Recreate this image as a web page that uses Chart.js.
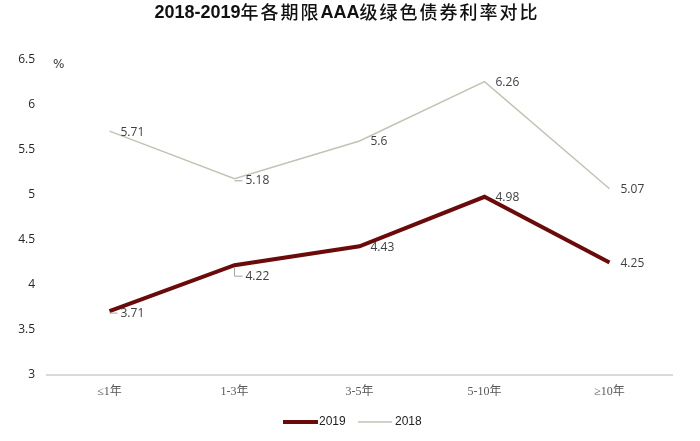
<!DOCTYPE html>
<html>
<head>
<meta charset="utf-8">
<script src="https://cdn.jsdelivr.net/npm/chart.js@4/dist/chart.umd.min.js"></script>
<style>
  html, body { margin: 0; padding: 0; background: #fff; }
  #wrap { width: 700px; height: 441px; }
</style>
</head>
<body>
<div id="wrap"><canvas id="rateChart"></canvas></div>
<script>
// 数据
const categories = ['≤1年', '1-3年', '3-5年', '5-10年', '≥10年'];
const rates2019 = [3.71, 4.22, 4.43, 4.98, 4.25];
const rates2018 = [5.71, 5.18, 5.6, 6.26, 5.07];
const yTicks = [3, 3.5, 4, 4.5, 5, 5.5, 6, 6.5];

// 标题分段：拉丁字符加粗，汉字常规
const titleParts = [
    ['2018-2019', true], ['年各期限', false], ['AAA', true], ['级绿色债券利率对比', false]
];
const cjk = '"Noto Sans CJK SC", "Noto Sans", sans-serif';

// 标题、单位、数据标签和图例
const decorPlugin = {
    id: 'decor',
    afterDatasetsDraw(chart) {
        const ctx = chart.ctx;
        ctx.save();

        // 标题
        ctx.fillStyle = '#111';
        ctx.textAlign = 'left';
        ctx.textBaseline = 'middle';
        const setFont = bold => {
            ctx.font = bold ? 'bold 18px "Liberation Sans", sans-serif' : '500 18px ' + cjk;
            ctx.letterSpacing = bold ? '0px' : '2px';
        };
        let total = 0;
        titleParts.forEach(([t, b]) => { setFont(b); total += ctx.measureText(t).width; });
        let tx = 347 - total / 2;
        titleParts.forEach(([t, b]) => {
            setFont(b);
            ctx.fillText(t, tx, b ? 13 : 12);
            tx += ctx.measureText(t).width;
        });
        ctx.letterSpacing = '0px';

        // 单位
        ctx.fillStyle = '#333';
        ctx.font = '12px "DejaVu Sans", sans-serif';
        ctx.fillText('%', 53, 65);

        // 数据标签
        ctx.font = '12px "Open Sans", "DejaVu Sans", sans-serif';
        ctx.fillStyle = '#404040';
        chart.data.datasets.forEach((ds, di) => {
            const meta = chart.getDatasetMeta(di);
            meta.data.forEach((pt, i) => {
                let dy = 1;
                let leader = false;
                if (di === 0 && i === 1) { dy = 11; leader = true; }
                if (di === 1 && i === 1) { dy = 2; leader = true; }
                if (di === 0 && i === 0) { dy = 2; leader = true; }
                if (leader) {
                    ctx.strokeStyle = '#a6a6a6';
                    ctx.lineWidth = 1;
                    ctx.beginPath();
                    ctx.moveTo(pt.x, pt.y + 2);
                    ctx.lineTo(pt.x, pt.y + dy);
                    ctx.lineTo(pt.x + 8, pt.y + dy);
                    ctx.stroke();
                }
                ctx.fillText(String(ds.data[i]), pt.x + 11, pt.y + dy);
            });
        });

        // 图例
        const ly = 422;
        ctx.font = '12px "Liberation Sans Narrow", "Liberation Sans", sans-serif';
        ctx.fillStyle = '#222';
        ctx.lineCap = 'butt';
        ctx.strokeStyle = chart.data.datasets[0].borderColor;
        ctx.lineWidth = 4;
        ctx.beginPath(); ctx.moveTo(283, ly); ctx.lineTo(318, ly); ctx.stroke();
        ctx.fillText('2019', 319, ly);
        ctx.strokeStyle = chart.data.datasets[1].borderColor;
        ctx.lineWidth = 1.5;
        ctx.beginPath(); ctx.moveTo(358, ly); ctx.lineTo(392, ly); ctx.stroke();
        ctx.fillText('2018', 395, ly);

        ctx.restore();
    }
};

const ctx = document.getElementById('rateChart').getContext('2d');
new Chart(ctx, {
    type: 'line',
    data: {
        labels: categories,
        datasets: [{
            label: '2019',
            data: rates2019,
            borderColor: '#6b0a0a',
            borderWidth: 4,
            pointRadius: 0,
            tension: 0,
            fill: false
        }, {
            label: '2018',
            data: rates2018,
            borderColor: '#c4c2b4',
            borderWidth: 1.5,
            pointRadius: 0,
            tension: 0,
            fill: false
        }]
    },
    options: {
        responsive: true,
        maintainAspectRatio: false,
        animation: false,
        layout: {
            padding: { top: 60, right: 28, left: 0, bottom: 0 }
        },
        plugins: {
            legend: { display: false },
            title: { display: false },
            tooltip: { enabled: false }
        },
        scales: {
            x: {
                offset: true,
                grid: { display: false, drawTicks: false },
                border: { color: '#d9d9d9', width: 2 },
                ticks: {
                    padding: 10,
                    color: '#595959',
                    font: { family: '"Liberation Serif", "Noto Sans CJK SC", serif', size: 12 }
                },
                afterFit(scale) { scale.height = 66; }
            },
            y: {
                min: 3,
                max: 6.5,
                afterBuildTicks(scale) {
                    scale.ticks = yTicks.map(v => ({ value: v }));
                },
                grid: { display: false, drawTicks: false },
                border: { display: false },
                ticks: {
                    padding: 12,
                    color: '#262626',
                    font: { family: '"Open Sans", "DejaVu Sans", sans-serif', size: 12 },
                    callback: v => String(v)
                },
                afterFit(scale) { scale.width = 47; }
            }
        }
    },
    plugins: [decorPlugin]
});
</script>
</body>
</html>
